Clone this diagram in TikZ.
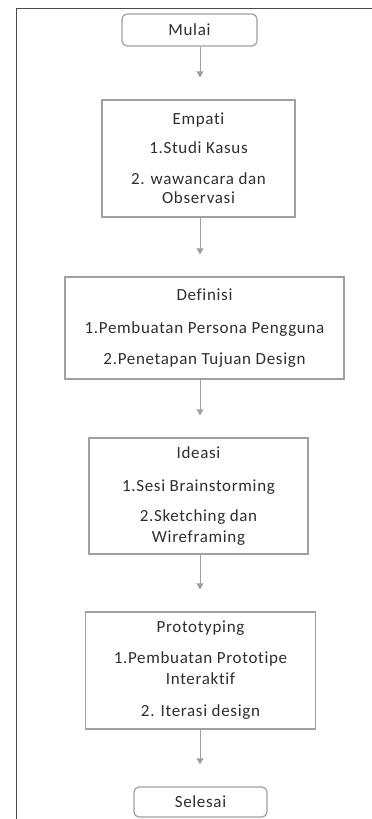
\documentclass[tikz,border=0pt]{standalone}
\usepackage{fontspec}
\setmainfont{Carlito}[LetterSpace=4,Ligatures={NoCommon}]
\usetikzlibrary{arrows.meta}
\definecolor{garis}{HTML}{A0A0A0}
\definecolor{teks}{HTML}{2E2E2E}
\definecolor{bingkai}{HTML}{4A4A4A}
\def\panah#1#2{
	\draw[-{Triangle[width=7pt,length=6pt]},garis,line width=0.8pt,shorten >= 22pt] (#1.south -| sumbu) -- (#2.north -| sumbu);
}

\begin{document}
\begin{tikzpicture}[x=1pt,y=-1pt,
	kotak/.style={draw=garis,line width=1.2pt,text=teks,align=center,inner sep=0pt,font=\fontsize{17}{19}\selectfont},
	ujung/.style={kotak,rounded corners=5pt}]
\useasboundingbox (0,0) rectangle (372,819);
\draw[bingkai,line width=1pt] (16,819) -- (16,8) -- (372,8);
\coordinate (sumbu) at (200,0);
\node[ujung,minimum width=135pt,minimum height=32pt] (mulai) at (189.5,30) {Mulai};
\node[kotak,minimum width=193pt,minimum height=117pt] (empati) at (198.5,158.5)
	{Empati\\[10pt]1.Studi Kasus\\[12pt]2. wawancara dan\\Observasi};
\node[kotak,minimum width=279pt,minimum height=102pt] (definisi) at (204.5,328)
	{Definisi\\[14pt]1.Pembuatan Persona Pengguna\\[12pt]2.Penetapan Tujuan Design};
\node[kotak,minimum width=219pt,minimum height=116pt] (ideasi) at (198.5,496)
	{Ideasi\\[14pt]1.Sesi Brainstorming\\[11pt]2.Sketching dan\\[2pt]Wireframing};
\node[kotak,minimum width=230pt,minimum height=117pt] (prototyping) at (200.5,670.5)
	{Prototyping\\[12pt]1.Pembuatan Prototipe\\[2pt]Interaktif\\[13pt]2. Iterasi design};
\node[ujung,minimum width=133pt,minimum height=30pt] (selesai) at (200.5,802) {Selesai};
\panah{mulai}{empati}
\panah{empati}{definisi}
\panah{definisi}{ideasi}
\panah{ideasi}{prototyping}
\panah{prototyping}{selesai}
\end{tikzpicture}
\end{document}
